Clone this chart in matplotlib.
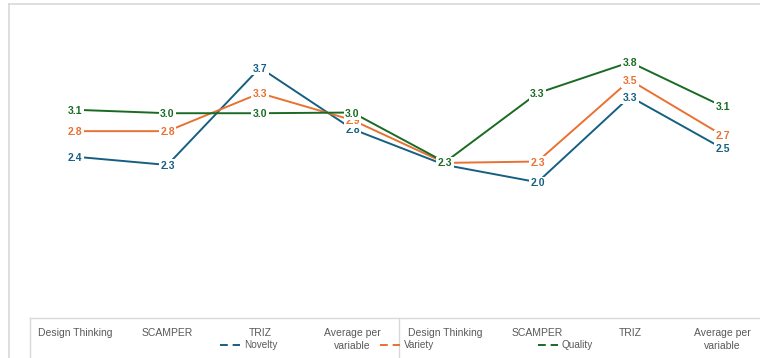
import matplotlib
matplotlib.use("Agg")
import matplotlib.pyplot as plt
from matplotlib.lines import Line2D

# Data (two groups of four categories each, connected as one line per series)
categories = ["Design Thinking", "SCAMPER", "TRIZ", "Average per\nvariable",
              "Design Thinking", "SCAMPER", "TRIZ", "Average per\nvariable"]
novelty = [2.41, 2.29, 3.70, 2.81, 2.29, 2.04, 3.28, 2.53]
variety = [2.78, 2.78, 3.33, 2.94, 2.32, 2.34, 3.52, 2.72]
quality = [3.09, 3.04, 3.04, 3.05, 2.33, 3.33, 3.78, 3.14]

series_names = ["Novelty", "Variety", "Quality"]
colors = ["#156082", "#E97132", "#196B24"]

W, H = 760, 358
fig = plt.figure(figsize=(W / 100, H / 100), dpi=100)
plt.rcParams["font.family"] = ["Liberation Sans", "DejaVu Sans"]

# plot area in pixel coordinates
left_px, right_px, top_px, bot_px = 30, 760, 4, 318
ax = fig.add_axes([left_px / W, 1 - bot_px / H, (right_px - left_px) / W, (bot_px - top_px) / H])
ax.set_xlim(-0.486, 7.405)
ax.set_ylim(0.072, 4.623)

x = list(range(len(categories)))
for vals, name, col in zip([novelty, variety, quality], series_names, colors):
    ax.plot(x, vals, color=col, lw=1.4, zorder=2)
    for xi, v in zip(x, vals):
        ax.text(xi, v, f"{v:.1f}", color=col, fontsize=7.5, fontweight="bold",
                ha="center", va="center_baseline", zorder=3,
                bbox=dict(boxstyle="square,pad=0.15", fc="white", ec="none"))

for s in ["top", "right", "left"]:
    ax.spines[s].set_visible(False)
ax.spines["bottom"].set_color("#d9d9d9")
ax.spines["bottom"].set_linewidth(1.0)
ax.set_yticks([])
ax.set_xticks(x)
ax.set_xticklabels(categories, fontsize=7.5, color="#595959", linespacing=1.35)
ax.tick_params(axis="x", length=0, pad=7)

# outer chart frame and category box lines
gray = "#d9d9d9"
fig.add_artist(Line2D([9 / W, 9 / W], [0, 1 - 4 / H], color=gray, lw=1.2, transform=fig.transFigure))
fig.add_artist(Line2D([9 / W, 1], [1 - 4 / H, 1 - 4 / H], color=gray, lw=1.2, transform=fig.transFigure))
fig.add_artist(Line2D([30 / W, 30 / W], [0, 1 - 318 / H], color=gray, lw=1.0, transform=fig.transFigure))
fig.add_artist(Line2D([399 / W, 399 / W], [0, 1 - 318 / H], color=gray, lw=1.0, transform=fig.transFigure))

handles = [Line2D([], [], color=c, lw=1.4, ls=(0, (4, 2.5))) for c in colors]
fig.legend(handles, series_names, loc="center left", bbox_to_anchor=(220 / W, 1 - 345 / H),
           ncol=3, frameon=False, fontsize=7.2, handlelength=2.0, handletextpad=0.4,
           columnspacing=10.3, borderpad=0, borderaxespad=0, labelcolor="#595959")

fig.savefig("out.png", dpi=100)
